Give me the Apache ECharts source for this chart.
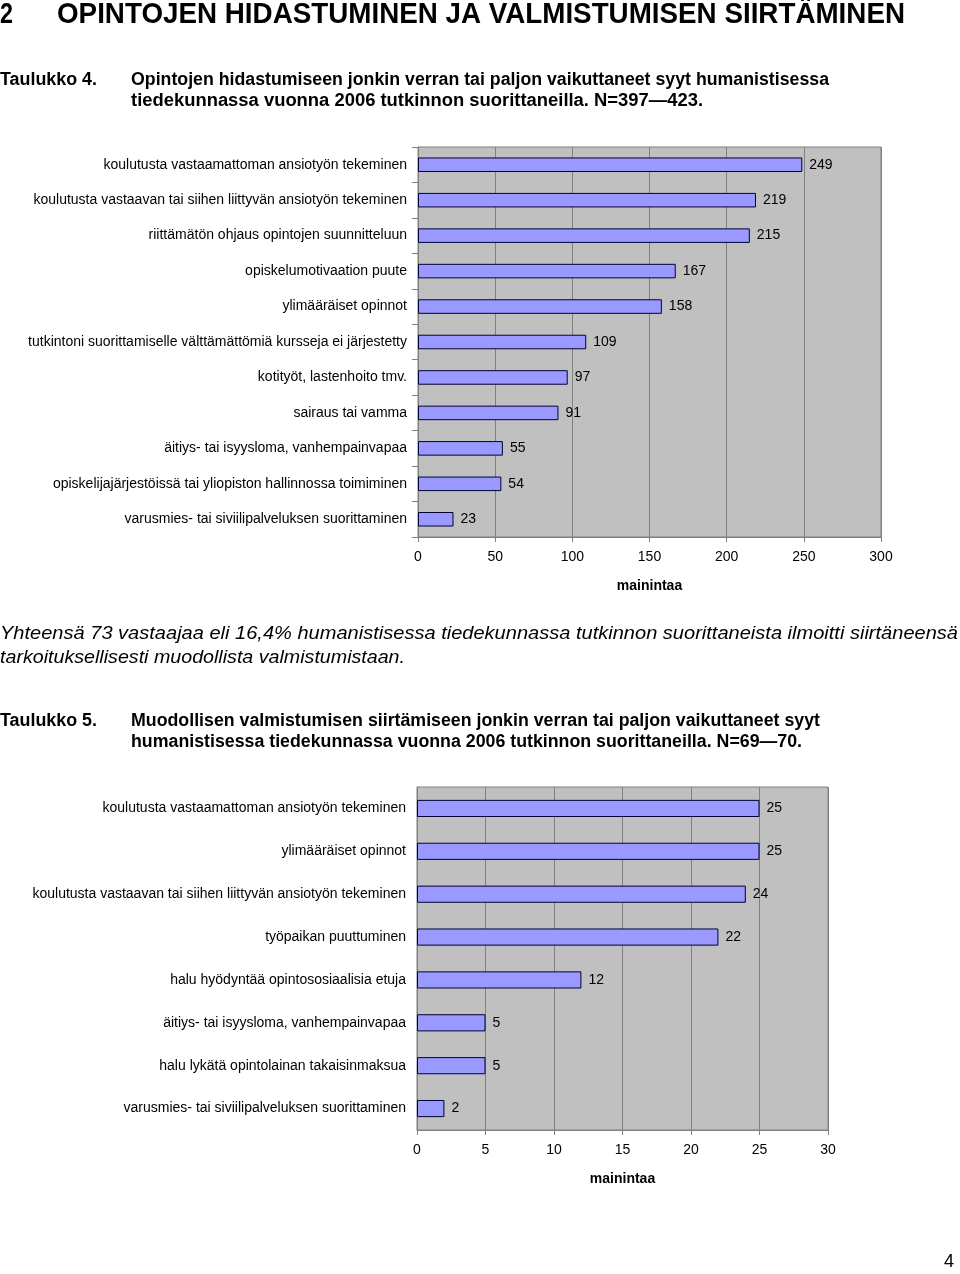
<!DOCTYPE html>
<html>
<head>
<meta charset="utf-8">
<script src="https://cdn.jsdelivr.net/npm/echarts@6/dist/echarts.min.js"></script>
<style>
html,body{margin:0;padding:0;background:#fff;}
#main{width:960px;height:1274px;}
</style>
</head>
<body>
<div id="main"></div>
<script>
// ---- Data ----
var categories1 = [
  "koulutusta vastaamattoman ansiotyön tekeminen",
  "koulutusta vastaavan tai siihen liittyvän ansiotyön tekeminen",
  "riittämätön ohjaus opintojen suunnitteluun",
  "opiskelumotivaation puute",
  "ylimääräiset opinnot",
  "tutkintoni suorittamiselle välttämättömiä kursseja ei järjestetty",
  "kotityöt, lastenhoito tmv.",
  "sairaus tai vamma",
  "äitiys- tai isyysloma, vanhempainvapaa",
  "opiskelijajärjestöissä tai yliopiston hallinnossa toimiminen",
  "varusmies- tai siviilipalveluksen suorittaminen"
];
var values1 = [249, 219, 215, 167, 158, 109, 97, 91, 55, 54, 23];
var xTicks1 = [0, 50, 100, 150, 200, 250, 300];

var categories2 = [
  "koulutusta vastaamattoman ansiotyön tekeminen",
  "ylimääräiset opinnot",
  "koulutusta vastaavan tai siihen liittyvän ansiotyön tekeminen",
  "työpaikan puuttuminen",
  "halu hyödyntää opintososiaalisia etuja",
  "äitiys- tai isyysloma, vanhempainvapaa",
  "halu lykätä opintolainan takaisinmaksua",
  "varusmies- tai siviilipalveluksen suorittaminen"
];
var values2 = [25, 25, 24, 22, 12, 5, 5, 2];
var xTicks2 = [0, 5, 10, 15, 20, 25, 30];

var axisName = "mainintaa";
var sectionNo = "2";
var sectionTitle = "OPINTOJEN HIDASTUMINEN JA VALMISTUMISEN SIIRTÄMINEN";
var table4Label = "Taulukko 4.";
var table4Caption = [
  "Opintojen hidastumiseen jonkin verran tai paljon vaikuttaneet syyt humanistisessa",
  "tiedekunnassa vuonna 2006 tutkinnon suorittaneilla. N=397—423."
];
var paragraph = [
  "Yhteensä 73 vastaajaa eli 16,4% humanistisessa tiedekunnassa tutkinnon suorittaneista ilmoitti siirtäneensä",
  "tarkoituksellisesti muodollista valmistumistaan."
];
var table5Label = "Taulukko 5.";
var table5Caption = [
  "Muodollisen valmistumisen siirtämiseen jonkin verran tai paljon vaikuttaneet syyt",
  "humanistisessa tiedekunnassa vuonna 2006 tutkinnon suorittaneilla. N=69—70."
];
var pageNo = "4";

// ---- Helpers ----
var FONT = "'Liberation Sans', Arial, sans-serif";
var mctx = document.createElement('canvas').getContext('2d');
function fitText(text, x, y, size, weight, style, targetWidth) {
  mctx.font = (style || 'normal') + ' ' + (weight || 'normal') + ' ' + size + 'px ' + FONT;
  var w = mctx.measureText(text).width;
  var sx = targetWidth ? targetWidth / w : 1;
  return {
    type: 'text', x: x, y: y, scaleX: sx, silent: true,
    style: {
      text: text, fontSize: size, fontWeight: weight || 'normal', fontStyle: style || 'normal',
      fontFamily: FONT, fill: '#000', align: 'left', verticalAlign: 'middle'
    }
  };
}

function barSeries(vals, xi, bw) {
  return {
    type: 'bar', xAxisIndex: xi, yAxisIndex: xi, data: vals, barWidth: bw,
    itemStyle: { color: '#9999ff', borderColor: '#000033', borderWidth: 1 },
    label: { show: true, position: 'right', distance: 7, color: '#000', fontSize: 14, fontFamily: FONT },
    silent: true, animation: false
  };
}
function xAxisCfg(gi, maxV, step) {
  return {
    type: 'value', gridIndex: gi, min: 0, max: maxV, interval: step,
    axisLine: { show: true, lineStyle: { color: '#808080', width: 1 } },
    axisTick: { show: true, length: 5, lineStyle: { color: '#808080' } },
    splitLine: { show: true, lineStyle: { color: '#808080', width: 1 } },
    axisLabel: { color: '#000', fontSize: 14, fontFamily: FONT, margin: 13 },
    name: axisName, nameLocation: 'middle', nameGap: 42,
    nameTextStyle: { color: '#000', fontSize: 14, fontWeight: 'bold', fontFamily: FONT }
  };
}
function yAxisCfg(gi, cats, ticks) {
  return {
    type: 'category', gridIndex: gi, data: cats, inverse: true,
    axisLine: { show: true, lineStyle: { color: '#808080', width: 1 } },
    axisTick: { show: ticks, length: 6, lineStyle: { color: '#808080' } },
    splitLine: { show: false },
    axisLabel: { color: '#000', fontSize: 14, fontFamily: FONT, margin: 11 }
  };
}

var graphics = [
  fitText(sectionNo, 0, 15, 30, 'bold', 'normal', 13),
  fitText(sectionTitle, 57, 15, 30, 'bold', 'normal', 848),
  fitText(table4Label, 0, 80, 18, 'bold', 'normal', 97),
  fitText(table4Caption[0], 131, 80, 18, 'bold', 'normal', 698),
  fitText(table4Caption[1], 131, 101, 18, 'bold', 'normal', 572),
  fitText(paragraph[0], 0, 634, 19, 'normal', 'italic', 958),
  fitText(paragraph[1], 0, 658, 19, 'normal', 'italic', 405),
  fitText(table5Label, 0, 721, 18, 'bold', 'normal', 97),
  fitText(table5Caption[0], 131, 721, 18, 'bold', 'normal', 689),
  fitText(table5Caption[1], 131, 742, 18, 'bold', 'normal', 671),
  fitText(pageNo, 944, 1262, 18, 'normal', 'normal', null)
];

var chart = echarts.init(document.getElementById('main'), null, { renderer: 'canvas' });
chart.setOption({
  animation: false,
  backgroundColor: '#ffffff',
  grid: [
    { left: 418, top: 147, width: 463, height: 390, show: true, backgroundColor: '#c0c0c0',
      borderColor: '#808080', borderWidth: 1, containLabel: false, outerBoundsMode: 'none' },
    { left: 417, top: 787, width: 411, height: 343, show: true, backgroundColor: '#c0c0c0',
      borderColor: '#808080', borderWidth: 1, containLabel: false, outerBoundsMode: 'none' }
  ],
  xAxis: [xAxisCfg(0, xTicks1[xTicks1.length - 1], xTicks1[1] - xTicks1[0]),
          xAxisCfg(1, xTicks2[xTicks2.length - 1], xTicks2[1] - xTicks2[0])],
  yAxis: [yAxisCfg(0, categories1, true), yAxisCfg(1, categories2, false)],
  series: [barSeries(values1, 0, '41%'), barSeries(values2, 1, '40%')],
  graphic: graphics
});
</script>
</body>
</html>
